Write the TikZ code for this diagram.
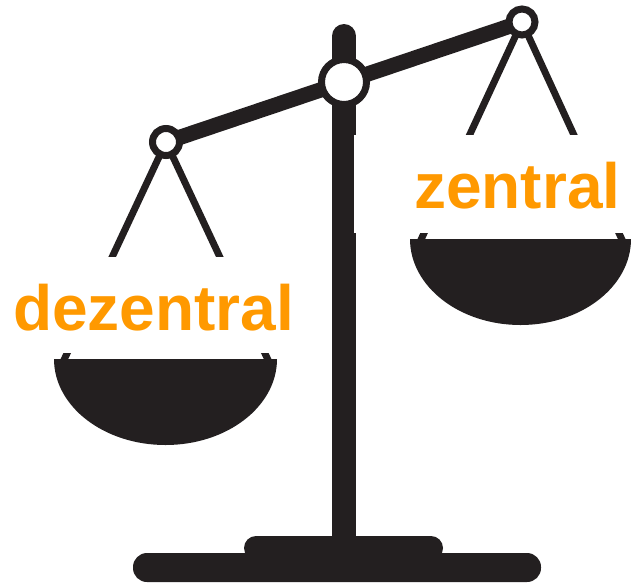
\documentclass[tikz,border=0pt]{standalone}
\usepackage{fontspec}
\setmainfont{Liberation Sans}
\definecolor{scaleblack}{HTML}{231F20}
\definecolor{labelorange}{HTML}{FF9900}
\tikzset{
  x=0.75pt, y=-0.75pt,
  beam/.style={draw=scaleblack, line width=11.5pt},
  post/.style={draw=scaleblack, line width=18pt, line cap=round},
  cord/.style={draw=scaleblack, line width=5.2pt},
  pan/.style={fill=scaleblack},
  basebar/.style={fill=scaleblack},
  mask/.style={fill=white},
  bigjoint/.style={draw=scaleblack, fill=white, line width=5.25pt},
  smalljoint/.style={draw=scaleblack, fill=white, line width=5.25pt},
  scalelabel/.style={text=labelorange, font=\fontsize{48}{48}\selectfont\bfseries, inner sep=0pt, anchor=base west}
}
\begin{document}
\begin{tikzpicture}
\useasboundingbox (0,0) rectangle (631,583);
\fill[white] (0,0) rectangle (631,583);
% post and base
\draw[post] (344,36) -- (344,545);
\fill[basebar, rounded corners=9pt] (244,560) -- (244,536) -- (443,536) -- (443,560) -- cycle;
\fill[basebar, rounded corners=10.5pt] (133,553) rectangle (541,582);
% cords
\draw[cord] (166,142) -- (63,362);
\draw[cord] (166,142) -- (269,362);
\draw[cord] (522,22) -- (419,244);
\draw[cord] (522,22) -- (624,244);
% pans
\fill[pan] (54,359) -- (277,359) arc[start angle=0, end angle=180, x radius=111.5, y radius=86] -- cycle;
\fill[pan] (410,239) -- (631,239) arc[start angle=0, end angle=180, x radius=110.5, y radius=86] -- cycle;
% beam and joints
\draw[beam] (166,142) -- (522,22);
\draw[bigjoint] (344,82) circle[radius=22.5];
\draw[smalljoint] (166,142) circle[radius=13.5];
\draw[smalljoint] (522,22) circle[radius=13];
% white label backgrounds
\fill[mask] (354,135) rectangle (631,233);
\fill[mask] (0,257) rectangle (330,353);
% labels
\node[scalelabel] (dez) at (13,330) {dezentral};
\node[scalelabel] (zen) at (414,208) {zentral};
\end{tikzpicture}
\end{document}
